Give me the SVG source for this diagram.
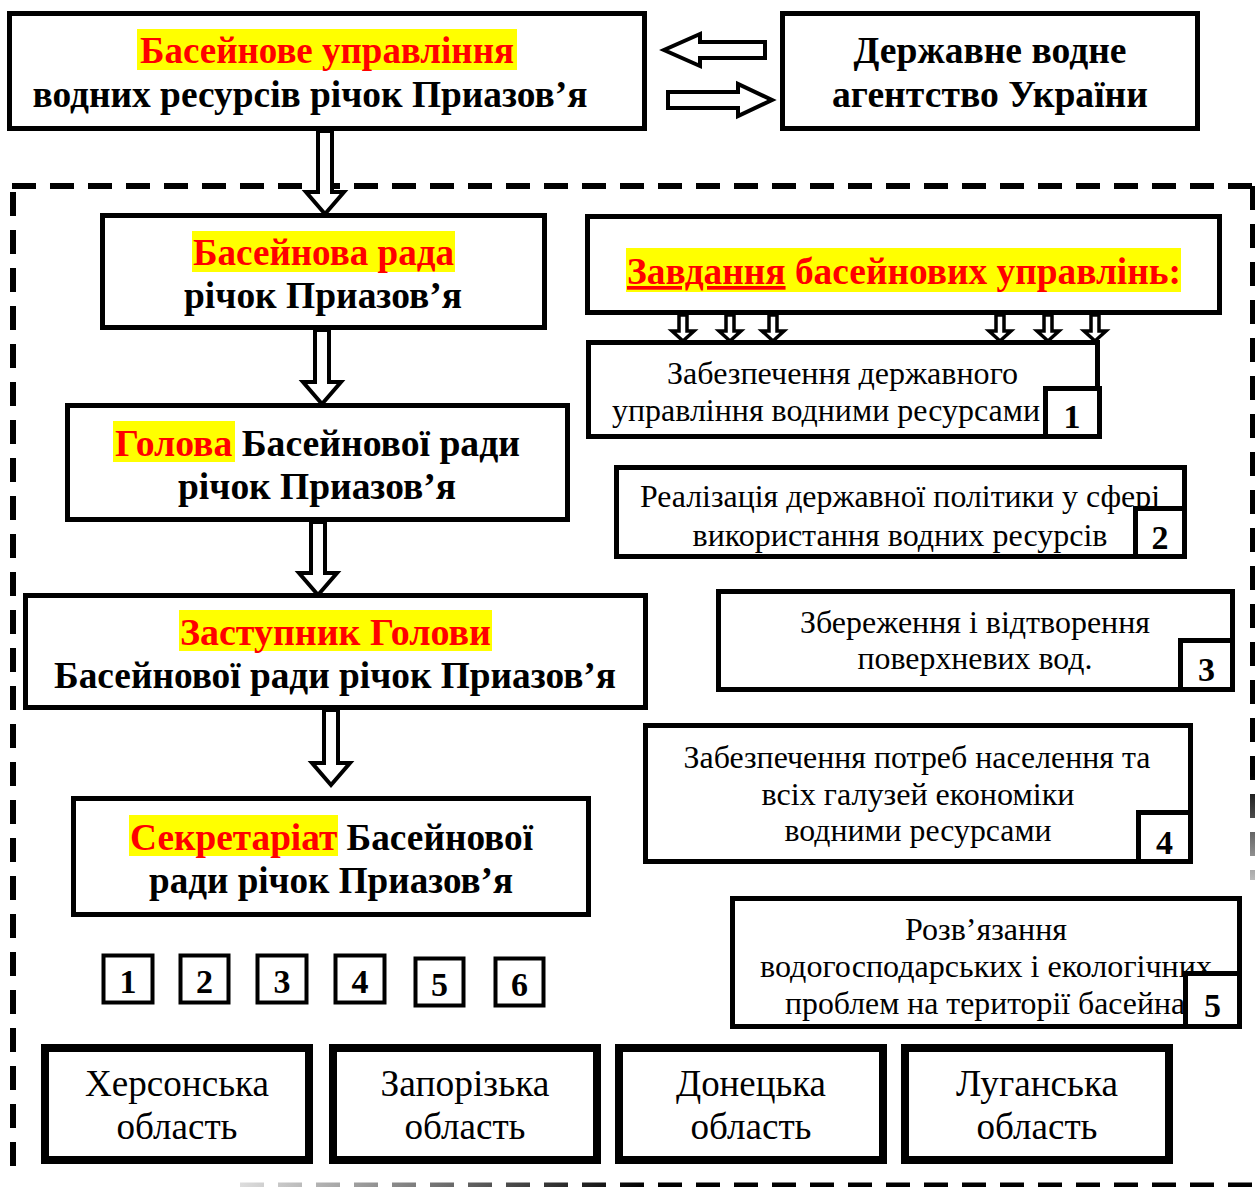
<svg xmlns="http://www.w3.org/2000/svg" width="1255" height="1187" viewBox="0 0 1255 1187">
<style>
.box{fill:#fff;stroke:#000;stroke-width:5}
.obl{fill:#fff;stroke:#000;stroke-width:8}
.num{fill:#fff;stroke:#000;stroke-width:4}
.arr{fill:#fff;stroke:#000;stroke-width:4;stroke-linejoin:miter}
.sarr{fill:#fff;stroke:#000;stroke-width:3.5}
.hl{fill:#ffff00}
.t{font-family:"Liberation Serif","Times New Roman",serif;fill:#000}
.b{font-weight:bold;font-size:37px}
.r{font-weight:normal;font-size:32px}
.o{font-weight:normal;font-size:37px}
.n{font-weight:bold;font-size:34px}
.red{fill:#ff0000}
.dash{fill:none;stroke:#000;stroke-width:6;stroke-dasharray:24 14}
</style>
<defs>
<linearGradient id="fadeV" gradientUnits="userSpaceOnUse" x1="0" y1="186" x2="0" y2="880">
<stop offset="0.85" stop-color="#000"/>
<stop offset="1" stop-color="#bbb"/>
</linearGradient>
<linearGradient id="fadeH" gradientUnits="userSpaceOnUse" x1="240" y1="0" x2="1255" y2="0">
<stop offset="0" stop-color="#ddd"/>
<stop offset="0.4" stop-color="#000"/>
</linearGradient>
<clipPath id="c2"><rect x="619" y="470" width="563" height="83"/></clipPath>
<clipPath id="c5"><rect x="735" y="901" width="502" height="122"/></clipPath>
</defs>

<g id="border">
<path class="dash" d="M12 186 H1255"/>
<path class="dash" d="M13 192 V1170"/>
<path d="M1253 186 V880" fill="none" stroke="url(#fadeV)" stroke-width="6" stroke-dasharray="24 14"/>
<path d="M240 1185 H1255" fill="none" stroke="url(#fadeH)" stroke-width="5" stroke-dasharray="24 14"/>
</g>

<g id="connectors">
<polygon class="arr" points="318,131 332,131 332,192 344,192 325,214 306,192 318,192"/>
<polygon class="arr" points="315,330 329,330 329,382 341,382 322,404 303,382 315,382"/>
<polygon class="arr" points="311,522 325,522 325,573 337,573 318,595 299,573 311,573"/>
<polygon class="arr" points="324,710 338,710 338,763 350,763 331,785 312,763 324,763"/>
<polygon class="arr" points="765,42 765,58 700,58 700,66 664,50 700,34 700,42"/>
<polygon class="arr" points="668,92 668,108 738,108 738,116 772,100 738,84 738,92"/>
<polygon class="sarr" points="679,315 687,315 687,331 694,331 683,341 672,331 679,331"/>
<polygon class="sarr" points="726,315 734,315 734,331 741,331 730,341 719,331 726,331"/>
<polygon class="sarr" points="769,315 777,315 777,331 784,331 773,341 762,331 769,331"/>
<polygon class="sarr" points="996,315 1004,315 1004,331 1011,331 1000,341 989,331 996,331"/>
<polygon class="sarr" points="1044,315 1052,315 1052,331 1059,331 1048,341 1037,331 1044,331"/>
<polygon class="sarr" points="1091,315 1099,315 1099,331 1106,331 1095,341 1084,331 1091,331"/>
</g>

<g id="node-bu">
<rect class="box" x="9.5" y="13.5" width="635" height="115"/>
<rect class="hl" x="137" y="29" width="380" height="41"/>
<text class="t b red" x="327" y="63" text-anchor="middle" textLength="374" lengthAdjust="spacingAndGlyphs">Басейнове управління</text>
<text class="t b" x="310" y="107" text-anchor="middle" textLength="555" lengthAdjust="spacingAndGlyphs">водних ресурсів річок Приазов’я</text>
</g>

<g id="node-dva">
<rect class="box" x="782.5" y="13.5" width="415" height="115"/>
<text class="t b" x="990" y="63" text-anchor="middle" textLength="273" lengthAdjust="spacingAndGlyphs">Державне водне</text>
<text class="t b" x="990" y="107" text-anchor="middle" textLength="316" lengthAdjust="spacingAndGlyphs">агентство України</text>
</g>

<g id="node-rada">
<rect class="box" x="102.5" y="215.5" width="442" height="112"/>
<rect class="hl" x="192" y="231" width="263" height="41"/>
<text class="t b red" x="323.5" y="265" text-anchor="middle" textLength="261" lengthAdjust="spacingAndGlyphs">Басейнова рада</text>
<text class="t b" x="323" y="308" text-anchor="middle" textLength="278" lengthAdjust="spacingAndGlyphs">річок Приазов’я</text>
</g>

<g id="node-holova">
<rect class="box" x="67.5" y="405.5" width="500" height="114"/>
<rect class="hl" x="113" y="421" width="122" height="41"/>
<text class="t b" x="115" y="456" textLength="405" lengthAdjust="spacingAndGlyphs"><tspan class="red">Голова</tspan> Басейнової ради</text>
<text class="t b" x="317" y="499" text-anchor="middle" textLength="278" lengthAdjust="spacingAndGlyphs">річок Приазов’я</text>
</g>

<g id="node-zastupnyk">
<rect class="box" x="25.5" y="595.5" width="620" height="112"/>
<rect class="hl" x="179" y="610" width="313" height="41"/>
<text class="t b red" x="335.5" y="645" text-anchor="middle" textLength="311" lengthAdjust="spacingAndGlyphs">Заступник Голови</text>
<text class="t b" x="335" y="688" text-anchor="middle" textLength="562" lengthAdjust="spacingAndGlyphs">Басейнової ради річок Приазов’я</text>
</g>

<g id="node-sekretariat">
<rect class="box" x="73.5" y="798.5" width="515" height="116"/>
<rect class="hl" x="129" y="815" width="209" height="41"/>
<text class="t b" x="130" y="850" textLength="403" lengthAdjust="spacingAndGlyphs"><tspan class="red">Секретаріат</tspan> Басейнової</text>
<text class="t b" x="331" y="893" text-anchor="middle" textLength="364" lengthAdjust="spacingAndGlyphs">ради річок Приазов’я</text>
</g>

<g id="node-zavdannia">
<rect class="box" x="587.5" y="216.5" width="632" height="96"/>
<rect class="hl" x="626" y="248" width="555" height="44"/>
<text class="t b red" x="627" y="284" textLength="554" lengthAdjust="spacingAndGlyphs"><tspan text-decoration="underline">Завдання</tspan> басейнових управлінь:</text>
</g>

<g id="node-task1">
<rect class="box" x="588.5" y="342.5" width="509" height="94"/>
<text class="t r" x="842.5" y="384" text-anchor="middle" textLength="351" lengthAdjust="spacingAndGlyphs">Забезпечення державного</text>
<text class="t r" x="826" y="421" text-anchor="middle" textLength="428" lengthAdjust="spacingAndGlyphs">управління водними ресурсами</text>
<rect class="box" x="1045.5" y="388.5" width="54" height="48"/>
<text class="t n" x="1072" y="428" text-anchor="middle">1</text>
</g>

<g id="node-task2">
<rect class="box" x="616.5" y="467.5" width="568" height="89"/>
<g clip-path="url(#c2)">
<text class="t r" x="640" y="507" textLength="520" lengthAdjust="spacingAndGlyphs">Реалізація державної політики у сфері</text>
<text class="t r" x="900" y="546" text-anchor="middle" textLength="415" lengthAdjust="spacingAndGlyphs">використання водних ресурсів</text>
</g>
<rect class="box" x="1135.5" y="508.5" width="49" height="48"/>
<text class="t n" x="1160" y="549" text-anchor="middle">2</text>
</g>

<g id="node-task3">
<rect class="box" x="718.5" y="591.5" width="514" height="98"/>
<text class="t r" x="975" y="633" text-anchor="middle" textLength="350" lengthAdjust="spacingAndGlyphs">Збереження і відтворення</text>
<text class="t r" x="975" y="669" text-anchor="middle" textLength="235" lengthAdjust="spacingAndGlyphs">поверхневих вод.</text>
<rect class="box" x="1180.5" y="640.5" width="52" height="49"/>
<text class="t n" x="1206.5" y="681" text-anchor="middle">3</text>
</g>

<g id="node-task4">
<rect class="box" x="645.5" y="725.5" width="545" height="136"/>
<text class="t r" x="917" y="768" text-anchor="middle" textLength="467" lengthAdjust="spacingAndGlyphs">Забезпечення потреб населення та</text>
<text class="t r" x="918" y="805" text-anchor="middle" textLength="313" lengthAdjust="spacingAndGlyphs">всіх галузей економіки</text>
<text class="t r" x="918" y="841" text-anchor="middle" textLength="267" lengthAdjust="spacingAndGlyphs">водними ресурсами</text>
<rect class="box" x="1138.5" y="812.5" width="52" height="49"/>
<text class="t n" x="1164.5" y="854" text-anchor="middle">4</text>
</g>

<g id="node-task5">
<rect class="box" x="732.5" y="898.5" width="507" height="128"/>
<g clip-path="url(#c5)">
<text class="t r" x="986" y="940" text-anchor="middle" textLength="162" lengthAdjust="spacingAndGlyphs">Розв’язання</text>
<text class="t r" x="760" y="977" textLength="452" lengthAdjust="spacingAndGlyphs">водогосподарських і екологічних</text>
<text class="t r" x="785" y="1014" textLength="400" lengthAdjust="spacingAndGlyphs">проблем на території басейна</text>
</g>
<rect class="box" x="1185.5" y="973.5" width="54" height="53"/>
<text class="t n" x="1212.5" y="1017" text-anchor="middle">5</text>
</g>

<g id="node-n1"><rect class="num" x="103.5" y="955.5" width="49" height="47"/><text class="t n" x="128" y="993" text-anchor="middle">1</text></g>
<g id="node-n2"><rect class="num" x="180.5" y="955.5" width="48" height="47"/><text class="t n" x="204.5" y="993" text-anchor="middle">2</text></g>
<g id="node-n3"><rect class="num" x="257.5" y="955.5" width="49" height="47"/><text class="t n" x="282" y="993" text-anchor="middle">3</text></g>
<g id="node-n4"><rect class="num" x="335.5" y="955.5" width="49" height="47"/><text class="t n" x="360" y="993" text-anchor="middle">4</text></g>
<g id="node-n5"><rect class="num" x="415.5" y="958.5" width="48" height="47"/><text class="t n" x="439.5" y="996" text-anchor="middle">5</text></g>
<g id="node-n6"><rect class="num" x="495.5" y="958.5" width="48" height="47"/><text class="t n" x="519.5" y="996" text-anchor="middle">6</text></g>

<g id="node-kherson">
<rect class="obl" x="45" y="1048" width="264" height="112"/>
<text class="t o" x="177" y="1096" text-anchor="middle" textLength="184" lengthAdjust="spacingAndGlyphs">Херсонська</text>
<text class="t o" x="177" y="1139" text-anchor="middle" textLength="121" lengthAdjust="spacingAndGlyphs">область</text>
</g>
<g id="node-zaporizhzhia">
<rect class="obl" x="333" y="1048" width="264" height="112"/>
<text class="t o" x="465" y="1096" text-anchor="middle" textLength="169" lengthAdjust="spacingAndGlyphs">Запорізька</text>
<text class="t o" x="465" y="1139" text-anchor="middle" textLength="121" lengthAdjust="spacingAndGlyphs">область</text>
</g>
<g id="node-donetsk">
<rect class="obl" x="619" y="1048" width="264" height="112"/>
<text class="t o" x="751" y="1096" text-anchor="middle" textLength="150" lengthAdjust="spacingAndGlyphs">Донецька</text>
<text class="t o" x="751" y="1139" text-anchor="middle" textLength="121" lengthAdjust="spacingAndGlyphs">область</text>
</g>
<g id="node-luhansk">
<rect class="obl" x="905" y="1048" width="264" height="112"/>
<text class="t o" x="1037" y="1096" text-anchor="middle" textLength="162" lengthAdjust="spacingAndGlyphs">Луганська</text>
<text class="t o" x="1037" y="1139" text-anchor="middle" textLength="121" lengthAdjust="spacingAndGlyphs">область</text>
</g>
</svg>
